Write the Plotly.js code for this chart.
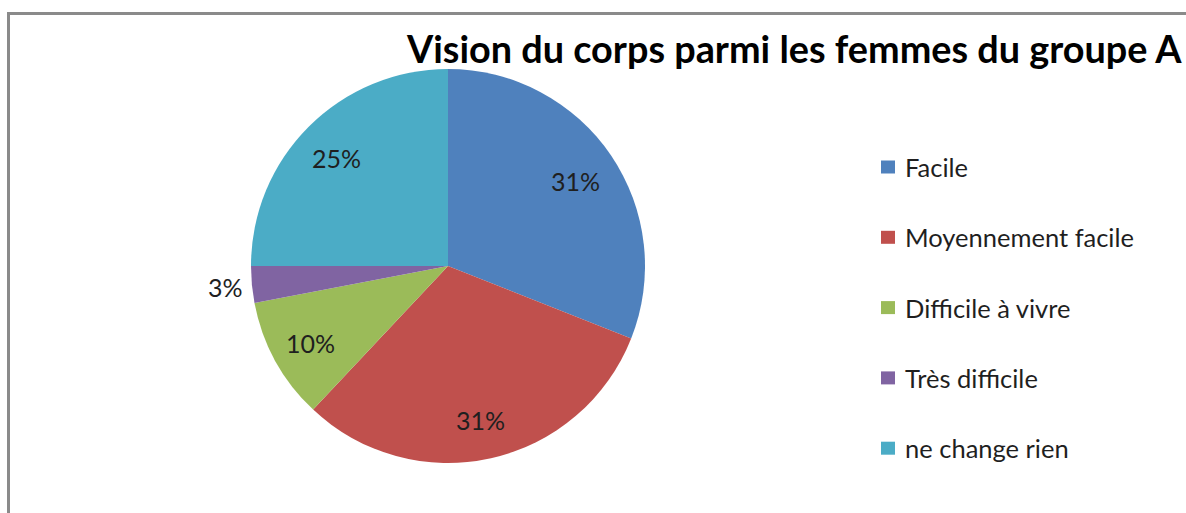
<!DOCTYPE html>
<html>
<head>
<meta charset="utf-8">
<script src="https://cdn.plot.ly/plotly-3.0.1.min.js"></script>
<style>
  html, body { margin: 0; padding: 0; background: #fff; overflow: hidden; }
  #wrap { position: relative; width: 1186px; height: 513px; }
  #chart { position: absolute; left: 0; top: 0; width: 1186px; height: 513px; }
  #frame { position: absolute; left: 7px; top: 12px; width: 1300px; height: 600px;
           border-left: 3px solid #8a8a8a; border-top: 3px solid #8a8a8a; pointer-events: none; }
</style>
</head>
<body>
<div id="wrap">
  <div id="chart"></div>
  <div id="frame"></div>
</div>
<script>
const chartTitle = 'Vision du corps parmi les femmes du groupe A';
const categories = ['Facile', 'Moyennement facile', 'Difficile à vivre', 'Très difficile', 'ne change rien'];
const values = [31, 31, 10, 3, 25];
const colors = ['#4F81BD', '#C0504D', '#9BBB59', '#8064A2', '#4BACC6'];
const labelOutside = [false, false, false, true, false];

const W = 1186, H = 513;
const mT = 69, mB = 50;
const plotH = H - mT - mB;
const pyToPaper = (py) => (H - mB - py) / plotH;
const FONT = 'Lato, "Open Sans", sans-serif';

// pie geometry (follows from domain + margins)
const domX = [251 / W, 645 / W];
const cxPx = (domX[0] + domX[1]) / 2 * W;
const cyPx = mT + plotH / 2;
const Rpx = Math.min((domX[1] - domX[0]) * W, plotH) / 2;

const trace = {
  type: 'pie',
  labels: categories,
  values: values,
  marker: { colors: colors, line: { width: 0 } },
  sort: false,
  direction: 'clockwise',
  rotation: 0,
  textinfo: 'none',
  domain: { x: domX, y: [0, 1] },
  showlegend: false,
  automargin: false,
  hoverinfo: 'label+percent'
};

const annotations = [];
const shapes = [];

// percentage data labels, placed along each slice's bisector (Excel style)
const total = values.reduce((a, b) => a + b, 0);
let cum = 0;
values.forEach((v, i) => {
  const frac = v / total;
  const mid = (cum + frac / 2) * 2 * Math.PI; // clockwise from 12 o'clock
  cum += frac;
  const r = Rpx * (labelOutside[i] ? 1.13 : 0.79);
  const px = cxPx + r * Math.sin(mid);
  const py = cyPx - r * Math.cos(mid);
  annotations.push({
    xref: 'paper', yref: 'paper',
    x: px / W, y: pyToPaper(py),
    xanchor: 'center', yanchor: 'middle',
    xshift: -1, yshift: labelOutside[i] ? 0 : -2,
    text: Math.round(frac * 100) + '%', showarrow: false,
    font: { family: FONT, size: 25, color: '#1f1f1f' }
  });
});

// legend built from the categories & colors
const legendTop = 167, legendStep = 70.3;
categories.forEach((c, i) => {
  const cy = legendTop + i * legendStep;
  annotations.push({
    xref: 'paper', yref: 'paper',
    x: 903 / W, y: pyToPaper(cy),
    xanchor: 'left', yanchor: 'middle',
    text: c, showarrow: false,
    font: { family: FONT, size: 25.5, color: '#1f1f1f' }
  });
  shapes.push({
    type: 'rect', xref: 'paper', yref: 'paper',
    x0: 881 / W, x1: 895 / W,
    y0: pyToPaper(cy + 6.5), y1: pyToPaper(cy - 6.5),
    fillcolor: colors[i], line: { width: 0 }
  });
});

const layout = {
  width: W, height: H,
  margin: { l: 0, r: 0, t: mT, b: mB, pad: 0 },
  paper_bgcolor: '#ffffff',
  plot_bgcolor: '#ffffff',
  showlegend: false,
  title: {
    text: '<b>' + chartTitle + '</b>',
    font: { family: FONT, size: 37.8, color: '#000000' },
    xref: 'container', yref: 'container',
    x: 407 / W, xanchor: 'left',
    y: 1 - 50 / H, yanchor: 'middle'
  },
  annotations: annotations,
  shapes: shapes
};

Plotly.newPlot('chart', [trace], layout, { displayModeBar: false, staticPlot: true });
</script>
</body>
</html>
